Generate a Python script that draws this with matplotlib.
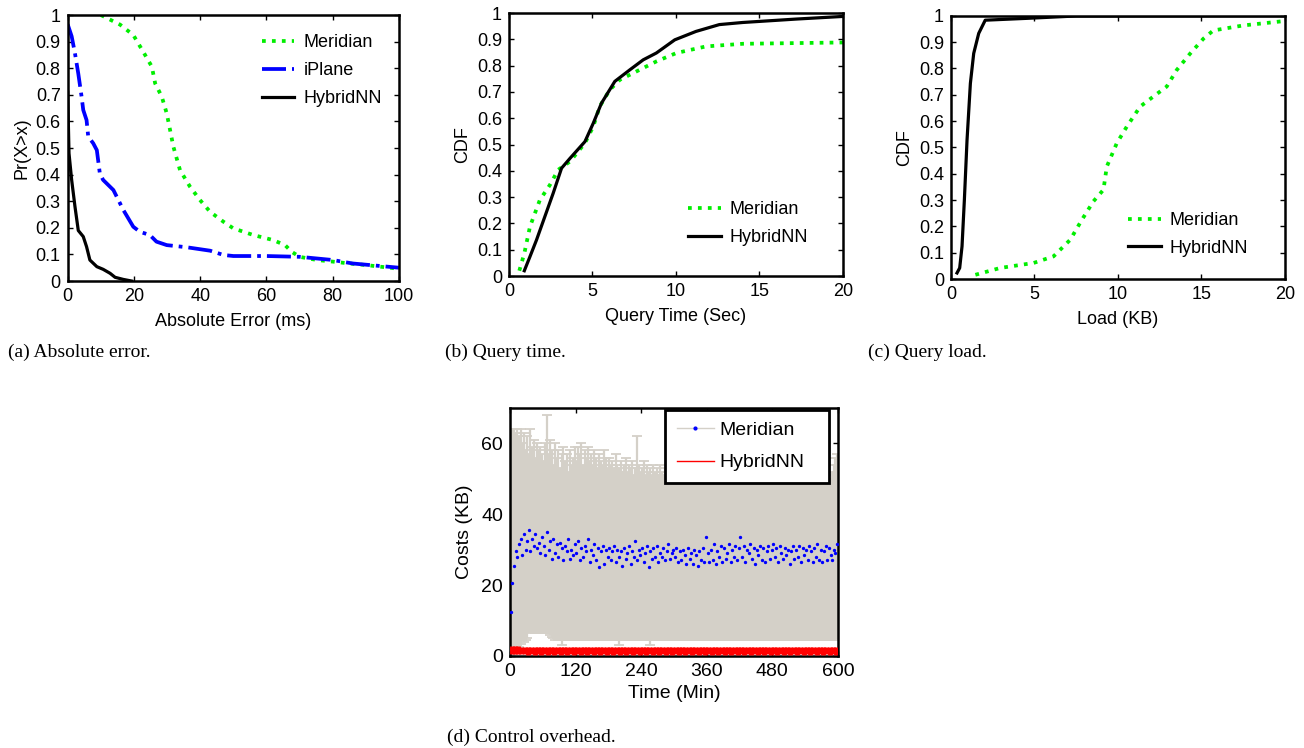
import matplotlib
matplotlib.use("Agg")
import matplotlib.pyplot as plt
from matplotlib.lines import Line2D
from matplotlib.ticker import FuncFormatter
import numpy as np

plt.rcParams['font.family'] = ['Liberation Sans', 'DejaVu Sans']

GREEN = '#00ee00'
BLUE = '#0000ff'
GREY = '#d4d0c8'
RED = '#ff0000'

# (a) complementary CDF of absolute error (ms)
err_meridian_x = [10, 15.8, 19.8, 22.8, 25.4, 26.4, 28.4, 29.9, 30.9, 31.9, 33.9, 36.9,
                  39.9, 43, 47, 50, 56, 62, 65.6, 67.6, 70, 75.2, 80, 85, 90, 100]
err_meridian_y = [1.0, 0.964, 0.925, 0.862, 0.806, 0.743, 0.693, 0.63, 0.568, 0.505, 0.417, 0.355,
                  0.305, 0.26, 0.223, 0.198, 0.173, 0.154, 0.135, 0.11, 0.091, 0.079, 0.073, 0.066, 0.06, 0.046]
err_iplane_x = [0, 1.2, 2.2, 3.2, 4.2, 4.7, 5.7, 6.2, 7.7, 8.8, 9.7, 10.7, 13.8, 14.8, 16.8,
                19.8, 21.8, 24.8, 26.8, 29.9, 35.9, 43, 47, 50, 60, 70, 80, 86, 100]
err_iplane_y = [0.965, 0.92, 0.856, 0.78, 0.693, 0.643, 0.605, 0.543, 0.518, 0.492, 0.405, 0.38, 0.342,
                0.317, 0.267, 0.204, 0.185, 0.173, 0.148, 0.135, 0.127, 0.114, 0.098, 0.094, 0.094,
                0.091, 0.079, 0.066, 0.05]
err_hybrid_x = [0, 0.4, 1.2, 2.2, 3.2, 4.7, 5.7, 6.7, 8.8, 10.7, 12.8, 14.3, 16.8, 19.3]
err_hybrid_y = [0.71, 0.48, 0.38, 0.28, 0.19, 0.167, 0.129, 0.079, 0.054, 0.044, 0.029, 0.014, 0.006, 0.0]

# (b) CDF of query time (Sec)
qt_meridian_x = [0.62, 0.92, 1.26, 1.85, 2.45, 2.95, 3.65, 4.55, 5.05, 5.44, 6.04, 6.64, 7.64,
                 8.83, 10.03, 11.8, 14, 20]
qt_meridian_y = [0.02, 0.086, 0.188, 0.289, 0.346, 0.404, 0.435, 0.505, 0.569, 0.645, 0.708,
                 0.746, 0.778, 0.816, 0.848, 0.873, 0.883, 0.888]
qt_hybrid_x = [0.92, 1.26, 1.65, 2.15, 2.65, 3.15, 3.65, 4.55, 5.05, 5.54, 6.34, 7.24, 8.04,
               8.83, 9.93, 11.2, 12.6, 14.0, 17.2, 20]
qt_hybrid_y = [0.02, 0.074, 0.137, 0.226, 0.315, 0.41, 0.447, 0.511, 0.581, 0.657, 0.74, 0.784,
               0.822, 0.848, 0.898, 0.93, 0.956, 0.964, 0.977, 0.987]

# (c) CDF of query load (KB)
ld_meridian_x = [1.46, 2.95, 4.95, 6.14, 7.14, 7.84, 8.53, 9.13, 9.33, 9.93, 10.53, 11.33, 12.12,
                 12.92, 13.52, 14.32, 15.12, 15.71, 17.5, 20]
ld_meridian_y = [0.016, 0.042, 0.061, 0.086, 0.149, 0.225, 0.295, 0.339, 0.427, 0.516, 0.579,
                 0.655, 0.693, 0.731, 0.794, 0.856, 0.913, 0.944, 0.963, 0.98]
ld_hybrid_x = [0.36, 0.52, 0.66, 0.8, 0.96, 1.16, 1.36, 1.66, 2.05, 4.55, 7.5, 20]
ld_hybrid_y = [0.023, 0.042, 0.124, 0.3, 0.528, 0.743, 0.857, 0.933, 0.983, 0.99, 0.999, 1.0]

# (d) control overhead over time, Meridian sampled every 3 min
cost_t = np.arange(1.5, 600, 3.0)
cost_meridian = [
    12.5, 20.5, 25.5, 29.5, 28.0, 31.5, 33.0, 28.5, 34.5, 30.0, 32.5, 35.5, 29.5, 33.0, 31.0, 34.5, 30.5, 32.0, 29.0, 33.5,
    31.0, 28.5, 35.0, 30.0, 32.5, 27.5, 33.0, 29.0, 31.5, 28.0, 32.0, 30.5, 27.0, 31.0, 29.5, 33.0, 27.5, 30.0, 28.5, 31.5,
    29.0, 32.5, 27.0, 30.5, 28.0, 31.0, 29.5, 33.0, 26.5, 30.0, 28.5, 31.5, 27.0, 30.5, 25.0, 29.5, 31.0, 26.0, 30.0, 28.0,
    30.5, 27.0, 29.5, 31.0, 26.5, 30.0, 28.0, 29.5, 25.5, 30.5, 27.5, 29.0, 31.0, 26.0, 29.5, 28.0, 32.5, 27.0, 30.0, 28.5,
    30.5, 26.5, 29.0, 31.0, 25.0, 29.5, 27.5, 30.5, 28.0, 31.0, 26.5, 29.0, 28.0, 30.5, 27.0, 29.5, 31.5, 27.5, 29.0, 30.0,
    28.0, 30.5, 26.5, 29.5, 27.0, 30.0, 28.5, 26.0, 30.5, 27.5, 29.0, 26.0, 30.0, 28.5, 25.5, 29.5, 27.0, 30.5, 26.5, 33.5,
    29.0, 26.5, 30.0, 27.0, 31.5, 26.0, 29.5, 28.0, 31.0, 26.5, 30.5, 27.5, 29.0, 31.5, 26.5, 30.0, 28.0, 31.0, 27.0, 30.5,
    33.5, 28.0, 31.0, 26.5, 30.0, 29.0, 31.5, 27.5, 30.5, 26.0, 30.0, 28.5, 31.0, 27.0, 30.5, 26.5, 29.5, 31.0, 27.5, 30.0,
    31.5, 28.0, 30.5, 26.5, 31.0, 29.0, 27.5, 30.5, 28.5, 30.0, 26.0, 29.5, 31.0, 27.5, 30.0, 28.0, 31.0, 26.5, 30.5, 28.5,
    30.0, 27.0, 31.0, 29.5, 26.5, 30.5, 28.0, 31.5, 27.0, 30.0, 26.5, 29.5, 31.0, 27.0, 30.5, 28.5, 27.0, 30.0, 29.0, 31.5,
]
cost_meridian_hi = [
    50, 64, 64, 63, 64, 62, 64, 60, 63, 58, 62, 57, 64, 59, 61, 56, 60, 58, 59, 57,
    55, 60, 68, 57, 61, 58, 54, 60, 56, 58, 53, 57, 59, 55, 57, 52, 58, 54, 56, 59,
    55, 59, 57, 60, 54, 58, 56, 59, 55, 57, 54, 58, 56, 53, 57, 55, 54, 58, 56, 53,
    56, 54, 55, 53, 57, 54, 53, 55, 52, 54, 56, 52, 54, 53, 55, 51, 53, 62, 54, 52,
    53, 55, 51, 54, 52, 53, 51, 54, 52, 53, 51, 54, 52, 51, 53, 50, 52, 54, 51, 53,
    51, 50, 52, 49, 51, 50, 52, 50, 49, 51, 50, 52, 49, 51, 50, 49, 51, 50, 52, 49,
    50, 51, 49, 52, 50, 49, 51, 50, 52, 49, 51, 50, 49, 51, 50, 52, 49, 50, 51, 49,
    50, 52, 49, 51, 50, 49, 51, 50, 52, 49, 50, 51, 49, 50, 52, 49, 51, 50, 49, 51,
    50, 49, 51, 50, 52, 49, 50, 51, 49, 50, 51, 50, 49, 51, 50, 52, 49, 50, 51, 50,
    49, 51, 50, 52, 49, 50, 51, 49, 50, 52, 50, 51, 49, 50, 51, 50, 52, 54, 56, 57,
]
cost_meridian_lo = [
    0.5, 0.5, 1.0, 2.5, 3.0, 2.5, 3.5, 4.5, 4.0, 4.5, 5.0, 6.5, 7.0, 7.0, 7.0, 6.5, 7.0, 6.5, 7.0, 7.0,
    6.5, 7.0, 6.5, 6.5, 6.0, 5.5, 5.0, 4.5, 5.0, 4.5, 5.0, 3.0, 4.5, 5.0, 4.5, 5.0, 5.5, 4.5, 5.0, 4.5,
    5.0, 4.5, 5.5, 5.0, 4.5, 5.0, 5.5, 4.5, 5.0, 4.5, 5.5, 5.0, 4.5, 5.0, 4.5, 5.5, 5.0, 4.5, 5.0, 4.5,
    4.5, 5.0, 5.5, 4.5, 5.0, 4.5, 3.0, 5.0, 4.5, 5.0, 4.5, 5.5, 5.0, 4.5, 5.0, 4.5, 5.5, 4.5, 5.0, 4.5,
    5.0, 4.5, 5.5, 5.0, 4.5, 3.0, 5.0, 4.5, 5.0, 4.5, 5.5, 5.0, 4.5, 5.0, 4.5, 5.5, 5.0, 4.5, 5.0, 4.5,
    4.5, 5.0, 5.5, 4.5, 5.0, 4.5, 5.5, 5.0, 4.5, 5.0, 4.5, 5.5, 5.0, 4.5, 5.0, 4.5, 5.5, 4.5, 5.0, 4.5,
    5.0, 4.5, 5.5, 5.0, 4.5, 5.0, 5.5, 4.5, 5.0, 4.5, 5.5, 5.0, 4.5, 5.0, 4.5, 5.5, 5.0, 4.5, 5.0, 4.5,
    4.5, 5.0, 5.5, 4.5, 5.0, 4.5, 5.5, 5.0, 4.5, 5.0, 4.5, 5.5, 5.0, 4.5, 5.0, 4.5, 5.5, 4.5, 5.0, 4.5,
    5.0, 4.5, 5.5, 5.0, 4.5, 5.0, 5.5, 4.5, 5.0, 4.5, 5.5, 5.0, 4.5, 5.0, 4.5, 5.5, 5.0, 4.5, 5.0, 4.5,
    4.5, 5.0, 5.5, 4.5, 5.0, 4.5, 5.5, 5.0, 4.5, 5.0, 4.5, 5.5, 5.0, 4.5, 5.0, 4.5, 5.5, 4.5, 5.0, 5.0,
]
# HybridNN every 6 min
hyb_t = np.arange(3.0, 600, 6.0)
cost_hybrid = [
    1.7, 1.7, 1.7, 1.5, 1.5, 1.4, 1.5, 1.4, 1.5, 1.4, 1.5, 1.4, 1.5, 1.4, 1.5, 1.4, 1.5, 1.4, 1.5, 1.4,
    1.5, 1.4, 1.5, 1.4, 1.5, 1.4, 1.5, 1.4, 1.5, 1.4, 1.5, 1.4, 1.5, 1.4, 1.5, 1.4, 1.5, 1.4, 1.5, 1.4,
    1.5, 1.4, 1.5, 1.4, 1.5, 1.4, 1.5, 1.4, 1.5, 1.4, 1.5, 1.4, 1.5, 1.4, 1.5, 1.4, 1.5, 1.4, 1.5, 1.4,
    1.5, 1.4, 1.5, 1.4, 1.5, 1.4, 1.5, 1.4, 1.5, 1.4, 1.5, 1.4, 1.5, 1.4, 1.5, 1.4, 1.5, 1.4, 1.5, 1.4,
    1.5, 1.4, 1.5, 1.4, 1.5, 1.4, 1.5, 1.4, 1.5, 1.4, 1.5, 1.4, 1.5, 1.4, 1.5, 1.4, 1.5, 1.4, 1.5, 1.4,
]
cost_hybrid_err = [
    1.2, 1.2, 1.1, 1.0, 1.0, 1.0, 1.0, 1.0, 1.0, 1.0, 1.0, 1.0, 1.0, 1.0, 1.0, 1.0, 1.0, 1.0, 1.0, 1.0,
    1.0, 1.0, 1.0, 1.0, 1.0, 1.0, 1.0, 1.0, 1.0, 1.0, 1.0, 1.0, 1.0, 1.0, 1.0, 1.0, 1.0, 1.0, 1.0, 1.0,
    1.0, 1.0, 1.0, 1.0, 1.0, 1.0, 1.0, 1.0, 1.0, 1.0, 1.0, 1.0, 1.0, 1.0, 1.0, 1.0, 1.0, 1.0, 1.0, 1.0,
    1.0, 1.0, 1.0, 1.0, 1.0, 1.0, 1.0, 1.0, 1.0, 1.0, 1.0, 1.0, 1.0, 1.0, 1.0, 1.0, 1.0, 1.0, 1.0, 1.0,
    1.0, 1.0, 1.0, 1.0, 1.0, 1.0, 1.0, 1.0, 1.0, 1.0, 1.0, 1.0, 1.0, 1.0, 1.0, 1.0, 1.0, 1.0, 1.0, 1.0,
]


def matlab_axes(ax, fs):
    for s in ax.spines.values():
        s.set_linewidth(1.8)
    ax.tick_params(direction='in', length=3.5, width=1.0, top=True, right=True,
                   labelsize=fs, pad=5)


fig = plt.figure(figsize=(13.04, 7.48), dpi=100)
FS = 13
LW = 2.3
fmt_tenths = FuncFormatter(lambda v, p: '%g' % round(v, 1))

# ---- (a)
ax = fig.add_axes([0.0519, 0.6243, 0.2541, 0.3556])
ax.plot(err_meridian_x, err_meridian_y, ls=':', color=GREEN, lw=LW + 0.4, label='Meridian')
ax.plot(err_iplane_x, err_iplane_y, ls='-.', color=BLUE, lw=LW + 0.4, label='iPlane')
ax.plot(err_hybrid_x, err_hybrid_y, ls='-', color='black', lw=LW, label='HybridNN')
ax.set_xlim(0, 100)
ax.set_ylim(0, 1)
ax.set_xticks(range(0, 101, 20))
ax.set_yticks(np.arange(0, 1.01, 0.1))
ax.yaxis.set_major_formatter(fmt_tenths)
ax.set_xlabel('Absolute Error (ms)', fontsize=FS, labelpad=6)
ax.set_ylabel('Pr(X>x)', fontsize=FS, labelpad=4)
matlab_axes(ax, FS)
ax.legend(loc='upper left', bbox_to_anchor=(0.564, 0.956), frameon=False, fontsize=FS,
          handlelength=1.8, handletextpad=0.5, labelspacing=0.62, borderaxespad=0)

# ---- (b)
ax = fig.add_axes([0.3903, 0.631, 0.2561, 0.3516])
ax.plot(qt_meridian_x, qt_meridian_y, ls=':', color=GREEN, lw=LW + 0.4, label='Meridian')
ax.plot(qt_hybrid_x, qt_hybrid_y, ls='-', color='black', lw=LW, label='HybridNN')
ax.set_xlim(0, 20)
ax.set_ylim(0, 1)
ax.set_xticks(range(0, 21, 5))
ax.set_yticks(np.arange(0, 1.01, 0.1))
ax.yaxis.set_major_formatter(fmt_tenths)
ax.set_xlabel('Query Time (Sec)', fontsize=FS, labelpad=6)
ax.set_ylabel('CDF', fontsize=FS, labelpad=4)
matlab_axes(ax, FS)
ax.legend(loc='lower left', bbox_to_anchor=(0.515, 0.087), frameon=False, fontsize=FS,
          handlelength=1.8, handletextpad=0.5, labelspacing=0.6, borderaxespad=0)

# ---- (c)
ax = fig.add_axes([0.7293, 0.627, 0.2561, 0.352])
ax.plot(ld_meridian_x, ld_meridian_y, ls=':', color=GREEN, lw=LW + 0.4, label='Meridian')
ax.plot(ld_hybrid_x, ld_hybrid_y, ls='-', color='black', lw=LW, label='HybridNN')
ax.set_xlim(0, 20)
ax.set_ylim(0, 1)
ax.set_xticks(range(0, 21, 5))
ax.set_yticks(np.arange(0, 1.01, 0.1))
ax.yaxis.set_major_formatter(fmt_tenths)
ax.set_xlabel('Load (KB)', fontsize=FS, labelpad=6)
ax.set_ylabel('CDF', fontsize=FS, labelpad=4)
matlab_axes(ax, FS)
ax.legend(loc='lower left', bbox_to_anchor=(0.509, 0.057), frameon=False, fontsize=FS,
          handlelength=1.8, handletextpad=0.5, labelspacing=0.6, borderaxespad=0)

# ---- (d)
FS_D = 14
ax = fig.add_axes([0.3911, 0.123, 0.2515, 0.3316])
mer = np.array(cost_meridian)
ax.errorbar(cost_t, mer, yerr=[mer - np.array(cost_meridian_lo), np.array(cost_meridian_hi) - mer],
            fmt='-', color=GREY, ecolor=GREY, elinewidth=1.6, capsize=3.5, capthick=1.3, lw=0.8,
            zorder=2)
hyb = np.array(cost_hybrid)
ax.errorbar(hyb_t, hyb, yerr=cost_hybrid_err, fmt='-', color=RED, ecolor=RED,
            elinewidth=3.5, capsize=0, lw=2, zorder=3)
ax.plot(cost_t, mer, ls='none', marker='.', ms=2.8, color=BLUE, zorder=4)
ax.set_xlim(0, 600)
ax.set_ylim(0, 70)
ax.set_xticks(range(0, 601, 120))
ax.set_yticks([0, 20, 40, 60])
ax.set_xlabel('Time (Min)', fontsize=FS_D, labelpad=4)
ax.set_ylabel('Costs (KB)', fontsize=FS_D, labelpad=6)
matlab_axes(ax, FS_D)
handles = [Line2D([], [], color=GREY, lw=1, marker='.', ms=4, mfc=BLUE, mec=BLUE, markevery=[1]),
           Line2D([], [], color=RED, lw=1)]
leg = ax.legend(handles, ['Meridian', 'HybridNN'], loc='upper left',
                bbox_to_anchor=(0.4726, 0.5, 0.5004, 0.492), mode='expand',
                fontsize=FS_D, handlelength=1.9, handletextpad=0.3, labelspacing=0.75,
                borderpad=0.6, borderaxespad=0, fancybox=False, framealpha=1, edgecolor='black')
leg.get_frame().set_linewidth(2.0)

# captions
cap = dict(fontsize=14, family=['Liberation Serif', 'DejaVu Serif'], va='center', ha='left')
fig.text(8 / 1304, 1 - 352 / 748, '(a) Absolute error.', **cap)
fig.text(445 / 1304, 1 - 352 / 748, '(b) Query time.', **cap)
fig.text(868 / 1304, 1 - 352 / 748, '(c) Query load.', **cap)
fig.text(447 / 1304, 1 - 737 / 748, '(d) Control overhead.', **cap)

fig.savefig('out.png', dpi=100)
